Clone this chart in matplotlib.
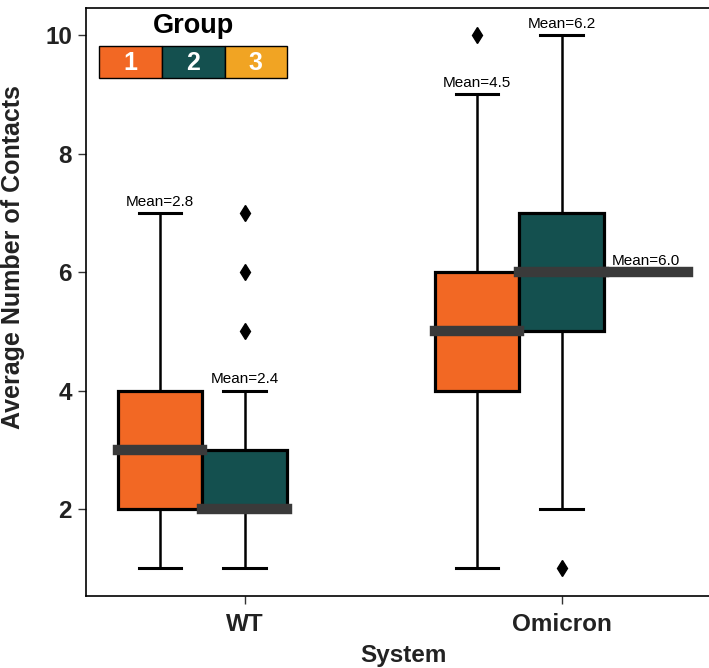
import matplotlib
matplotlib.use("Agg")
import matplotlib.pyplot as plt
from matplotlib.patches import Rectangle

plt.rcParams['font.family'] = ['Liberation Sans', 'DejaVu Sans']

# data
systems = ["WT", "Omicron"]
groups = ["1", "2", "3"]
colors = ["#F26824", "#14504F", "#F1A423"]

# one entry per (system, group) that has data
box_system = [0, 0, 1, 1, 1]
box_group = [0, 1, 0, 1, 2]
q1 = [2, 2, 4, 5, 6]
median = [3, 2, 5, 6, 6]
q3 = [4, 3, 6, 7, 6]
whis_lo = [1, 1, 1, 2, 6]
whis_hi = [7, 4, 9, 10, 6]
fliers = [[], [5, 6, 7], [10], [1], []]
means = [2.8, 2.4, 4.5, 6.2, 6.0]

fig = plt.figure(figsize=(7.09, 6.68), dpi=100)
ax = fig.add_axes([86 / 709, 72 / 668, 634 / 709, 588 / 668])

width = 0.8 / len(groups)
for i in range(len(q1)):
    pos = box_system[i] + (box_group[i] - 1) * width
    stats = [dict(med=median[i], q1=q1[i], q3=q3[i], whislo=whis_lo[i],
                  whishi=whis_hi[i], fliers=fliers[i], mean=means[i])]
    ax.bxp(stats, positions=[pos], widths=[width], patch_artist=True,
           boxprops=dict(facecolor=colors[box_group[i]], edgecolor="black", linewidth=2.3),
           whiskerprops=dict(color="black", linewidth=1.8),
           capprops=dict(color="black", linewidth=2.2),
           medianprops=dict(color="#3a3a3a", linewidth=7.5, solid_capstyle="projecting", zorder=5),
           flierprops=dict(marker="d", markerfacecolor="black", markeredgecolor="black", markersize=8),
           manage_ticks=False)
    ax.text(pos, whis_hi[i] + 0.07, f"Mean={means[i]:.1f}", ha="center", va="bottom",
            fontsize=11, zorder=6)

ax.set_xlim(-0.5, 1.5)
ax.set_ylim(0.53, 10.46)
ax.set_xticks(range(len(systems)))
ax.set_xticklabels(systems)
ax.set_yticks([2, 4, 6, 8, 10])
ax.tick_params(axis="both", labelsize=17.5, length=6, width=1, color="#333333", pad=4)
for lab in ax.get_xticklabels() + ax.get_yticklabels():
    lab.set_fontweight("bold")
    lab.set_color("#222222")
ax.tick_params(axis="x", pad=6)
ax.set_xlabel("System", fontsize=17.5, fontweight="bold", color="#222222", labelpad=6)
ax.set_ylabel("Average Number of Contacts", fontsize=18, fontweight="bold", color="#222222")
ax.yaxis.set_label_coords(-0.097, 0.577)
for sp in ax.spines.values():
    sp.set_linewidth(1.2)
ax.spines["right"].set_visible(False)

# legend drawn as a row of coloured boxes
ax.text(0.169, 0.969, "Group", transform=ax.transAxes, ha="center", va="center",
        fontsize=19.5, fontweight="bold")
bw = 0.099
for j, g in enumerate(groups):
    x0 = 0.0205 + j * bw
    ax.add_patch(Rectangle((x0, 0.881), bw, 0.054, transform=ax.transAxes,
                           facecolor=colors[j], edgecolor="black", linewidth=1, zorder=7))
    ax.text(x0 + bw / 2, 0.907, g, transform=ax.transAxes, ha="center", va="center",
            fontsize=18, fontweight="bold", color="white", zorder=8)

fig.savefig("out.png", dpi=100)
